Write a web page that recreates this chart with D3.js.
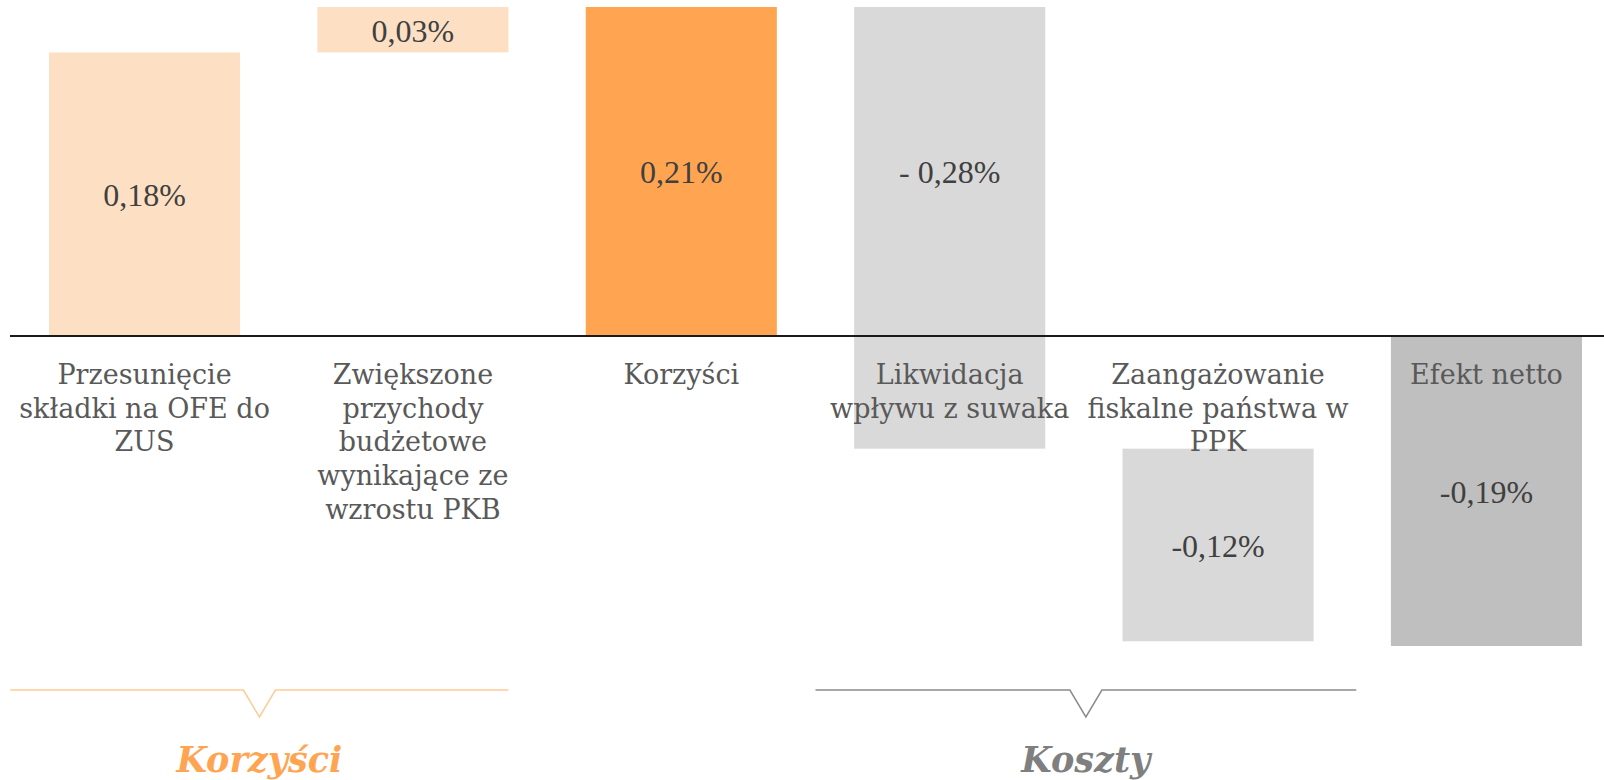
<!DOCTYPE html>
<html>
<head>
<meta charset="utf-8">
<script src="https://cdn.jsdelivr.net/npm/d3@7"></script>
<style>
  body { margin: 0; background: #fff; }
  svg { display: block; }
</style>
</head>
<body>
<script>
// waterfall data
const categories = ["ofe", "pkb", "korzysci", "suwak", "ppk", "netto"];
const categoryLines = [
  ["Przesunięcie", "składki na OFE do", "ZUS"],
  ["Zwiększone", "przychody", "budżetowe", "wynikające ze", "wzrostu PKB"],
  ["Korzyści"],
  ["Likwidacja", "wpływu z suwaka"],
  ["Zaangażowanie", "fiskalne państwa w", "PPK"],
  ["Efekt netto"]
];
const values = [0.181, 0.029, 0.21, -0.282, -0.123, -0.198];
const kinds = ["step", "step", "total", "step", "step", "total"];
const valueLabels = ["0,18%", "0,03%", "0,21%", "- 0,28%", "-0,12%", "-0,19%"];

const groupNames = ["Korzyści", "Koszty"];
const groupFirst = [0, 3];
const groupLast = [1, 4];

// styles
const barFill = ["#FDE0C4", "#FDE0C4", "#FFA552", "#D9D9D9", "#D9D9D9", "#BFBFBF"];
const groupColor = ["#FFA552", "#7F7F7F"];
const groupLineColor = ["#FDCB98", "#8C8C8C"];

let width = 1604,
    height = 780;

// running totals
let running = 0;
const bars = values.map((v, i) => {
  let start, end;
  if (kinds[i] === "total") { start = 0; end = v; running = v; }
  else { start = running; end = running + v; running = end; }
  return { cat: categories[i], i, start, end };
});

const svg = d3.select("body").append("svg")
    .attr("width", width)
    .attr("height", height);

const x = d3.scaleBand()
    .domain(categories)
    .range([49, 1582])
    .paddingInner(0.288)
    .paddingOuter(0);

const y = d3.scaleLinear()
    .domain([-0.198, 0.21])
    .range([646, 7]);

const bw = x.bandwidth();
const gap = x.step() - bw;

// bars
svg.selectAll(".bar")
  .data(bars)
  .enter().append("rect")
    .attr("class", "bar")
    .attr("x", d => x(d.cat))
    .attr("width", bw)
    .attr("y", d => y(Math.max(d.start, d.end)))
    .attr("height", d => Math.abs(y(d.start) - y(d.end)))
    .attr("fill", d => barFill[d.i]);

// zero line
svg.append("line")
    .attr("x1", 10).attr("x2", width)
    .attr("y1", y(0)).attr("y2", y(0))
    .attr("stroke", "#1a1a1a")
    .attr("stroke-width", 2);

// category labels under the axis
const catText = svg.selectAll(".cat")
  .data(categoryLines)
  .enter().append("text")
    .attr("class", "cat")
    .attr("text-anchor", "middle")
    .attr("font-family", "'DejaVu Serif', serif")
    .attr("font-size", 27)
    .attr("fill", "#595959")
    .attr("y", y(0) + 48);

catText.each(function(lines, i) {
  const cx = x(categories[i]) + bw / 2;
  d3.select(this).selectAll("tspan")
    .data(lines)
    .enter().append("tspan")
      .attr("x", cx)
      .attr("dy", (d, k) => k === 0 ? 0 : 33.7)
      .text(d => d);
});

// value labels in the bars
svg.selectAll(".val")
  .data(bars)
  .enter().append("text")
    .attr("class", "val")
    .attr("text-anchor", "middle")
    .attr("font-family", "'Liberation Serif', serif")
    .attr("font-size", 32)
    .attr("fill", "#404040")
    .attr("x", d => x(d.cat) + bw / 2)
    .attr("y", d => {
      let top = Math.max(d.start, d.end), bot = Math.min(d.start, d.end);
      if (top > 0 && bot < 0) bot = 0;   // bar crosses axis: label sits in upper part
      return (y(top) + y(bot)) / 2 + 12;
    })
    .text(d => valueLabels[d.i]);

// group brackets
const brackets = groupNames.map((name, g) => {
  const left = x(categories[groupFirst[g]]) - gap / 2;
  const right = x(categories[groupLast[g]]) + bw + (g === 0 ? 0 : gap / 2 + 4);
  return { name, g, left, right, mid: (left + right) / 2 };
});

const by = 690, notchW = 16, notchH = 27;

svg.selectAll(".bracket")
  .data(brackets)
  .enter().append("path")
    .attr("class", "bracket")
    .attr("fill", "none")
    .attr("stroke", d => groupLineColor[d.g])
    .attr("stroke-width", 1.5)
    .attr("d", d => d3.line()([
      [d.left, by], [d.mid - notchW, by], [d.mid, by + notchH],
      [d.mid + notchW, by], [d.right, by]
    ]));

svg.selectAll(".group")
  .data(brackets)
  .enter().append("text")
    .attr("class", "group")
    .attr("text-anchor", "middle")
    .attr("font-family", "'DejaVu Serif', serif")
    .attr("font-style", "italic")
    .attr("font-weight", "bold")
    .attr("font-size", 35)
    .attr("fill", d => groupColor[d.g])
    .attr("x", d => d.mid)
    .attr("y", 772)
    .text(d => d.name);
</script>
</body>
</html>
